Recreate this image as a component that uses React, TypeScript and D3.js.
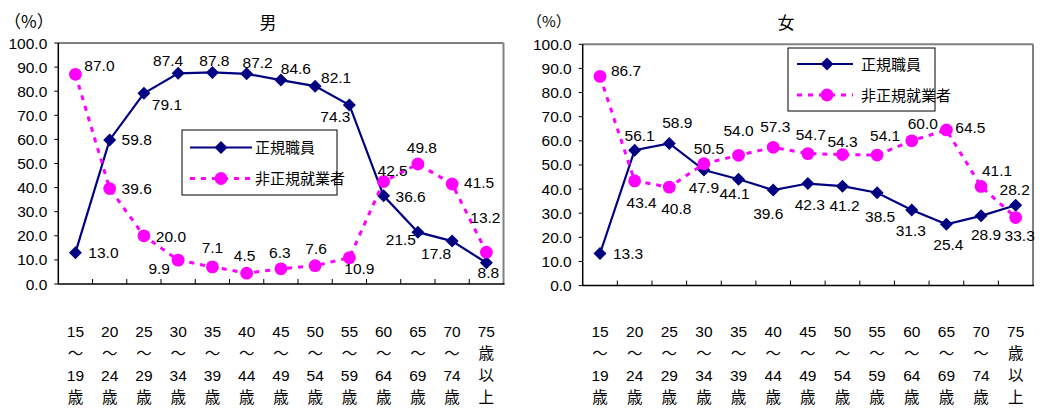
import React from "react";
import * as d3 from "d3";

const ageGroups: string[][] = [
  ["15", "～", "19", "歳"],
  ["20", "～", "24", "歳"],
  ["25", "～", "29", "歳"],
  ["30", "～", "34", "歳"],
  ["35", "～", "39", "歳"],
  ["40", "～", "44", "歳"],
  ["45", "～", "49", "歳"],
  ["50", "～", "54", "歳"],
  ["55", "～", "59", "歳"],
  ["60", "～", "64", "歳"],
  ["65", "～", "69", "歳"],
  ["70", "～", "74", "歳"],
  ["75", "歳", "以", "上"],
];
const yTicks = [0, 10, 20, 30, 40, 50, 60, 70, 80, 90, 100];
const seriesNames = ["正規職員", "非正規就業者"];

const maleRegular = [13.0, 59.8, 79.1, 87.4, 87.8, 87.2, 84.6, 82.1, 74.3, 36.6, 21.5, 17.8, 8.8];
const maleNonRegular = [87.0, 39.6, 20.0, 9.9, 7.1, 4.5, 6.3, 7.6, 10.9, 42.5, 49.8, 41.5, 13.2];
const femaleRegular = [13.3, 56.1, 58.9, 47.9, 44.1, 39.6, 42.3, 41.2, 38.5, 31.3, 25.4, 28.9, 33.3];
const femaleNonRegular = [86.7, 43.4, 40.8, 50.5, 54.0, 57.3, 54.7, 54.3, 54.1, 60.0, 64.5, 41.1, 28.2];

// label placement offsets (style only)
const maleRegularLabelOff: [number, number][] = [
  [28, 0], [27, 0], [23, 11], [-10, -13], [2, -12], [11, -11], [15, -12], [21, -9], [-14, 12], [27, 1], [-17, 7], [-16, 12], [2, 10],
];
const maleNonRegularLabelOff: [number, number][] = [
  [24, -9], [27, 0], [27, 1], [-19, 8], [0, -19], [-2, -18], [-1, -16], [1, -17], [10, 11], [9, -11], [4, -16], [27, -1], [-1, -35],
];
const femaleRegularLabelOff: [number, number][] = [
  [28, 0], [5, -15], [8, -21], [0, 17], [-4, 14], [-5, 23], [2, 21], [2, 19], [3, 24], [-1, 20], [2, 20], [5, 19], [4, 30],
];
const femaleNonRegularLabelOff: [number, number][] = [
  [26, -6], [7, 22], [7, 21], [5, -15], [0, -25], [2, -21], [3, -19], [0, -13], [8, -20], [11, -17], [24, -2], [16, -16], [-1, -28],
];

const NAVY = "#000080";
const MAGENTA = "#FF00FF";
const FONT = "'Liberation Sans', Arial, 'Noto Sans CJK JP', sans-serif";
const CJK = "'Noto Sans CJK JP', sans-serif";
const NUM_SIZE = 15.5;
const fmt = d3.format(".1f");

const diamond = (r: number) => `M0,${-r}L${r},0L0,${r}L${-r},0Z`;

type PanelProps = {
  title: string;
  x0: number;
  x1: number;
  y0: number;
  y1: number;
  regular: number[];
  nonRegular: number[];
  regOff: [number, number][];
  nonOff: [number, number][];
  titleX: number;
  pctX: number;
  pctSize: number;
  legend: { x: number; y: number; w: number; h: number; l1: number; l2: number; lx0: number; lx1: number; mx: number; tx: number };
};

function Panel(p: PanelProps) {
  const x = d3.scaleBand<number>().domain(d3.range(ageGroups.length)).range([p.x0, p.x1]);
  const cx = (i: number) => (x(i) as number) + x.bandwidth() / 2;
  const y = d3.scaleLinear().domain([0, 100]).range([p.y1, p.y0]);
  const line = d3
    .line<number>()
    .x((_, i) => cx(i))
    .y((d) => y(d));
  const L = p.legend;
  return (
    <g fontFamily={FONT}>
      <text x={p.pctX} y={20} fontSize={p.pctSize} fontFamily={CJK} dominantBaseline="central" fill="#000">
        （%）
      </text>
      <text x={p.titleX} y={21} fontSize={17} fontFamily={CJK} textAnchor="middle" dominantBaseline="central" fill="#000">
        {p.title}
      </text>
      {/* plot frame */}
      <line x1={p.x0} x2={p.x1} y1={p.y0} y2={p.y0} stroke="#808080" strokeWidth={2} />
      <line x1={p.x1} x2={p.x1} y1={p.y0} y2={p.y1} stroke="#808080" strokeWidth={2} />
      <line x1={p.x0} x2={p.x0} y1={p.y0} y2={p.y1 + 0.5} stroke="#000" strokeWidth={1.5} />
      <line x1={p.x0} x2={p.x1 + 1} y1={p.y1} y2={p.y1} stroke="#000" strokeWidth={1.5} />
      {yTicks.map((t) => (
        <g key={t}>
          <line x1={p.x0 - 4} x2={p.x0} y1={y(t)} y2={y(t)} stroke="#000" strokeWidth={1} />
          <text x={p.x0 - 11} y={y(t)} fontSize={NUM_SIZE} textAnchor="end" dominantBaseline="central" fill="#000">
            {fmt(t)}
          </text>
        </g>
      ))}
      {ageGroups.map((_, i) =>
        i === 0 ? null : (
          <line key={i} x1={x(i) as number} x2={x(i) as number} y1={p.y1} y2={p.y1 - 5} stroke="#000" strokeWidth={1} />
        )
      )}
      {ageGroups.map((rows, i) => (
        <g key={"xl" + i}>
          {rows.map((r, j) => (
            <text
              key={j}
              x={cx(i)}
              y={[331.5, 353, 375, 397.5][j]}
              fontSize={NUM_SIZE}
              textAnchor="middle"
              dominantBaseline="central"
              fill="#000"
            >
              {r}
            </text>
          ))}
        </g>
      ))}
      {/* series */}
      <path d={line(p.regular) || ""} fill="none" stroke={NAVY} strokeWidth={2.2} />
      {p.regular.map((v, i) => (
        <path key={"d" + i} d={diamond(6.5)} transform={`translate(${cx(i)},${y(v)})`} fill={NAVY} />
      ))}
      <path d={line(p.nonRegular) || ""} fill="none" stroke={MAGENTA} strokeWidth={3} strokeDasharray="5 6" />
      {p.nonRegular.map((v, i) => (
        <circle key={"c" + i} cx={cx(i)} cy={y(v)} r={6.4} fill={MAGENTA} />
      ))}
      {p.regular.map((v, i) => (
        <text
          key={"rl" + i}
          x={cx(i) + p.regOff[i][0]}
          y={y(v) + p.regOff[i][1]}
          fontSize={NUM_SIZE}
          textAnchor="middle"
          dominantBaseline="central"
          fill="#000"
        >
          {fmt(v)}
        </text>
      ))}
      {p.nonRegular.map((v, i) => (
        <text
          key={"nl" + i}
          x={cx(i) + p.nonOff[i][0]}
          y={y(v) + p.nonOff[i][1]}
          fontSize={NUM_SIZE}
          textAnchor="middle"
          dominantBaseline="central"
          fill="#000"
        >
          {fmt(v)}
        </text>
      ))}
      {/* legend */}
      <rect x={L.x} y={L.y} width={L.w} height={L.h} fill="#fff" stroke="#000" strokeWidth={1} />
      <line x1={L.lx0} x2={L.lx1} y1={L.l1} y2={L.l1} stroke={NAVY} strokeWidth={2.2} />
      <path d={diamond(6.5)} transform={`translate(${L.mx},${L.l1})`} fill={NAVY} />
      <text x={L.tx} y={L.l1} fontSize={15} dominantBaseline="central" fill="#000">
        {seriesNames[0]}
      </text>
      <line x1={L.lx0} x2={L.lx1} y1={L.l2} y2={L.l2} stroke={MAGENTA} strokeWidth={3} strokeDasharray="5 6" />
      <circle cx={L.mx} cy={L.l2} r={6.4} fill={MAGENTA} />
      <text x={L.tx} y={L.l2} fontSize={15} dominantBaseline="central" fill="#000">
        {seriesNames[1]}
      </text>
    </g>
  );
}

export default function App() {
  return (
    <svg
      width={1040}
      height={412}
      style={{ position: "absolute", left: 0, top: 0, background: "#fff" }}
    >
      <rect width={1040} height={412} fill="#fff" />
      <Panel
        title="男"
        x0={58.3}
        x1={503.5}
        y0={43}
        y1={284}
        regular={maleRegular}
        nonRegular={maleNonRegular}
        regOff={maleRegularLabelOff}
        nonOff={maleNonRegularLabelOff}
        titleX={268}
        pctX={4}
        pctSize={17}
        legend={{ x: 182, y: 130, w: 155, h: 65, l1: 147.5, l2: 178.5, lx0: 190, lx1: 252, mx: 221, tx: 255 }}
      />
      <Panel
        title="女"
        x0={582.7}
        x1={1033}
        y0={44.3}
        y1={285.6}
        regular={femaleRegular}
        nonRegular={femaleNonRegular}
        regOff={femaleRegularLabelOff}
        nonOff={femaleNonRegularLabelOff}
        titleX={786}
        pctX={527}
        pctSize={15}
        legend={{ x: 788, y: 48, w: 147, h: 63, l1: 64, l2: 95, lx0: 797, lx1: 853, mx: 827, tx: 861 }}
      />
    </svg>
  );
}
